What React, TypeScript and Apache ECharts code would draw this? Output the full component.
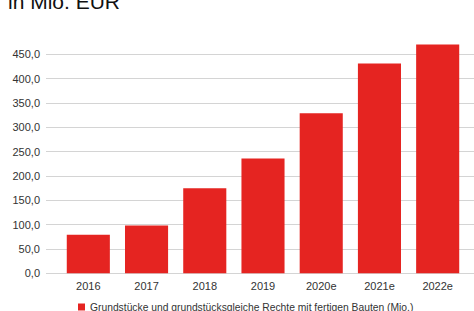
import React, { useEffect, useRef } from "react";
import * as echarts from "echarts";

const categories = ["2016", "2017", "2018", "2019", "2020e", "2021e", "2022e"];
const values = [79, 98, 175, 236, 329, 431, 470];
const seriesName = "Grundstücke und grundstücksgleiche Rechte mit fertigen Bauten (Mio.)";
const titleText = "in Mio. EUR";

export default function App() {
  const ref = useRef<HTMLDivElement>(null);
  useEffect(() => {
    if (!ref.current) return;
    const chart = echarts.init(ref.current, null, { renderer: "svg" });
    const font = "'Liberation Sans', Arial, sans-serif";
    chart.setOption({
      animation: false,
      backgroundColor: "#ffffff",
      textStyle: { fontFamily: font },
      graphic: [
        {
          type: "text",
          left: 8,
          top: -9,
          style: { text: titleText, font: `21px ${font}`, fill: "#111111" },
        },
      ],
      legend: {
        left: 78,
        top: 302,
        padding: 0,
        itemWidth: 7,
        itemHeight: 7,
        icon: "rect",
        textStyle: { fontSize: 10.3, color: "#333333", fontFamily: font },
        data: [seriesName],
      },
      grid: [
        { left: 46, right: 0, top: 54.3, bottom: 37.7, containLabel: false },
        { left: 59.2, right: 7.2, top: 30, bottom: 37.7, containLabel: false },
      ],
      xAxis: [
        { type: "value", gridIndex: 0, show: false, min: 0, max: 1 },
        {
          type: "category",
          gridIndex: 1,
          data: categories,
          axisLine: { show: false },
          axisTick: { show: false },
          axisLabel: { color: "#333333", fontSize: 11, margin: 7, fontFamily: font },
        },
      ],
      yAxis: [
        {
          type: "value",
          gridIndex: 0,
          min: 0,
          max: 450,
          interval: 50,
          axisLine: { show: false },
          axisTick: { show: false },
          splitLine: { lineStyle: { color: "#d4d4d4", width: 1 } },
          axisLabel: {
            color: "#333333",
            fontSize: 11,
            margin: 6,
            fontFamily: font,
            formatter: (v: number) => v.toFixed(1).replace(".", ","),
          },
        },
        { type: "value", gridIndex: 1, min: 0, max: 500, show: false },
      ],
      series: [
        {
          name: seriesName,
          type: "bar",
          xAxisIndex: 1,
          yAxisIndex: 1,
          data: values,
          barCategoryGap: "26%",
          itemStyle: { color: "#e52421" },
        },
      ],
    });
    return () => chart.dispose();
  }, []);
  return (
    <div
      ref={ref}
      style={{ position: "absolute", left: 0, top: 0, width: 474, height: 311 }}
    />
  );
}
